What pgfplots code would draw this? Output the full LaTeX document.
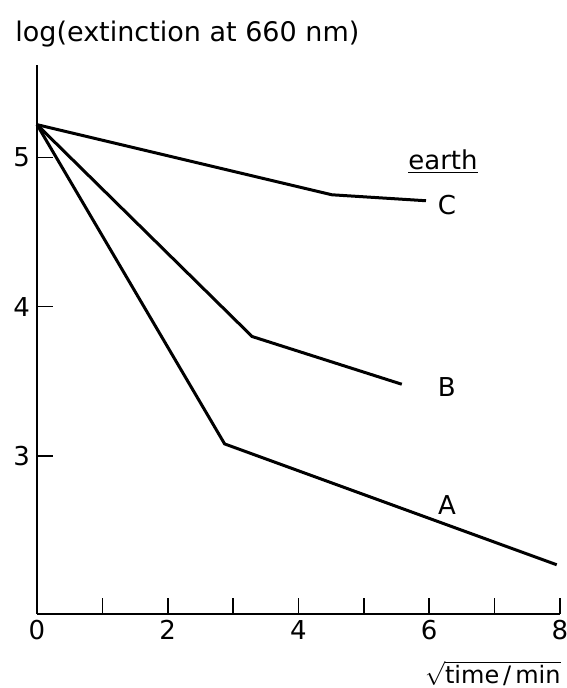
\documentclass[border=0pt]{standalone}
\usepackage{fontspec}
\setmainfont{DejaVu Sans}
\usepackage{pgfplots}
\pgfplotsset{compat=1.18}
\begin{document}
\begin{tikzpicture}
\begin{axis}[
  scale only axis,
  width=261.5pt, height=274.5pt,
  xmin=0, xmax=8, ymin=1.94, ymax=5.62,
  axis x line=bottom, axis y line=left,
  axis line style={-, line width=1pt},
  xtick={0,1,2,3,4,5,6,7,8}, xticklabels={0,,2,,4,,6,,8},
  ytick={3,4,5},
  tick align=inside,
  major tick length=8pt,
  tick style={line width=0.8pt, black},
  tick label style={font=\fontsize{13}{14}\selectfont},
  xticklabel style={yshift=-2pt, inner sep=1pt},
  /pgf/number format/assume math mode=true,
  clip=false,
]
\addplot[black, line width=1.5pt] coordinates {(0,5.22) (2.87,3.08) (7.95,2.27)};
\addplot[black, line width=1.5pt] coordinates {(0,5.22) (3.29,3.80) (5.58,3.48)};
\addplot[black, line width=1.5pt] coordinates {(0,5.22) (4.51,4.75) (5.95,4.71)};
\node[font=\fontsize{13}{14}\selectfont] at (axis cs:6.21,4.97) {\underline{earth}};
\node[font=\fontsize{13}{14}\selectfont] at (axis cs:6.27,4.68) {C};
\node[font=\fontsize{13}{14}\selectfont] at (axis cs:6.27,3.46) {B};
\node[font=\fontsize{13}{14}\selectfont] at (axis cs:6.27,2.67) {A};
\end{axis}
\node[anchor=west, font=\fontsize{13.5}{14}\selectfont, inner sep=0pt] at (-11pt,290pt) {log(extinction at 660 nm)};
\node[anchor=base east, font=\fontsize{12}{13}\selectfont, inner sep=0pt] at (262pt,-34.5pt) {$\sqrt{\mbox{time\,/\,min}}$};
\pgfresetboundingbox
\path (-18.5pt,-37pt) rectangle (264.5pt,307pt);
\end{tikzpicture}
\end{document}
